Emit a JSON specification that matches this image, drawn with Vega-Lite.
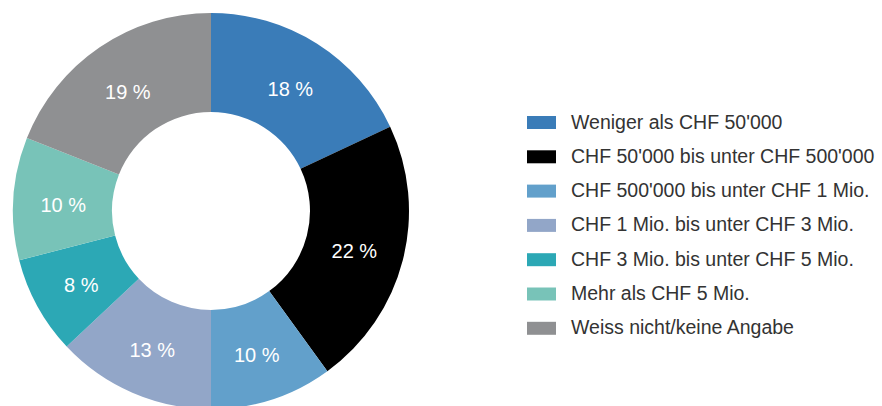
{
  "$schema": "https://vega.github.io/schema/vega-lite/v6.json",
  "width": 882,
  "height": 406,
  "autosize": "none",
  "padding": 0,
  "background": "white",
  "view": {"stroke": null},
  "data": {
    "values": [
      {"category": "Weniger als CHF 50'000", "value": 18, "order": 1, "label": "18 %"},
      {"category": "CHF 50'000 bis unter CHF 500'000", "value": 22, "order": 2, "label": "22 %"},
      {"category": "CHF 500'000 bis unter CHF 1 Mio.", "value": 10, "order": 3, "label": "10 %"},
      {"category": "CHF 1 Mio. bis unter CHF 3 Mio.", "value": 13, "order": 4, "label": "13 %"},
      {"category": "CHF 3 Mio. bis unter CHF 5 Mio.", "value": 8, "order": 5, "label": "8 %"},
      {"category": "Mehr als CHF 5 Mio.", "value": 10, "order": 6, "label": "10 %"},
      {"category": "Weiss nicht/keine Angabe", "value": 19, "order": 7, "label": "19 %"}
    ]
  },
  "encoding": {
    "theta": {"field": "value", "type": "quantitative", "stack": true},
    "order": {"field": "order", "type": "quantitative"}
  },
  "layer": [
    {
      "mark": {"type": "arc", "innerRadius": 99, "outerRadius": 198, "x": 211, "y": 211},
      "encoding": {
        "color": {
          "field": "category",
          "type": "nominal",
          "sort": ["Weniger als CHF 50'000", "CHF 50'000 bis unter CHF 500'000", "CHF 500'000 bis unter CHF 1 Mio.", "CHF 1 Mio. bis unter CHF 3 Mio.", "CHF 3 Mio. bis unter CHF 5 Mio.", "Mehr als CHF 5 Mio.", "Weiss nicht/keine Angabe"],
          "scale": {
            "domain": ["Weniger als CHF 50'000", "CHF 50'000 bis unter CHF 500'000", "CHF 500'000 bis unter CHF 1 Mio.", "CHF 1 Mio. bis unter CHF 3 Mio.", "CHF 3 Mio. bis unter CHF 5 Mio.", "Mehr als CHF 5 Mio.", "Weiss nicht/keine Angabe"],
            "range": ["#3a7cb8", "#000000", "#62a0cb", "#92a6c8", "#2ca8b5", "#78c3b8", "#8f9092"]
          },
          "legend": {
            "title": null,
            "orient": "none",
            "legendX": 527,
            "legendY": 108,
            "symbolType": "M-1,-0.448H1V0.448H-1Z",
            "symbolSize": 841,
            "symbolStrokeWidth": 0,
            "symbolOpacity": 1,
            "labelFont": "Liberation Sans",
            "labelFontSize": 19.5,
            "labelColor": "#333333",
            "labelOffset": 15,
            "labelLimit": 400,
            "rowPadding": 10.3
          }
        }
      }
    },
    {
      "mark": {"type": "text", "radius": 148, "x": 211, "y": 211, "dy": 4, "color": "white", "fontSize": 20, "font": "Liberation Sans"},
      "encoding": {"text": {"field": "label", "type": "nominal"}}
    }
  ]
}
